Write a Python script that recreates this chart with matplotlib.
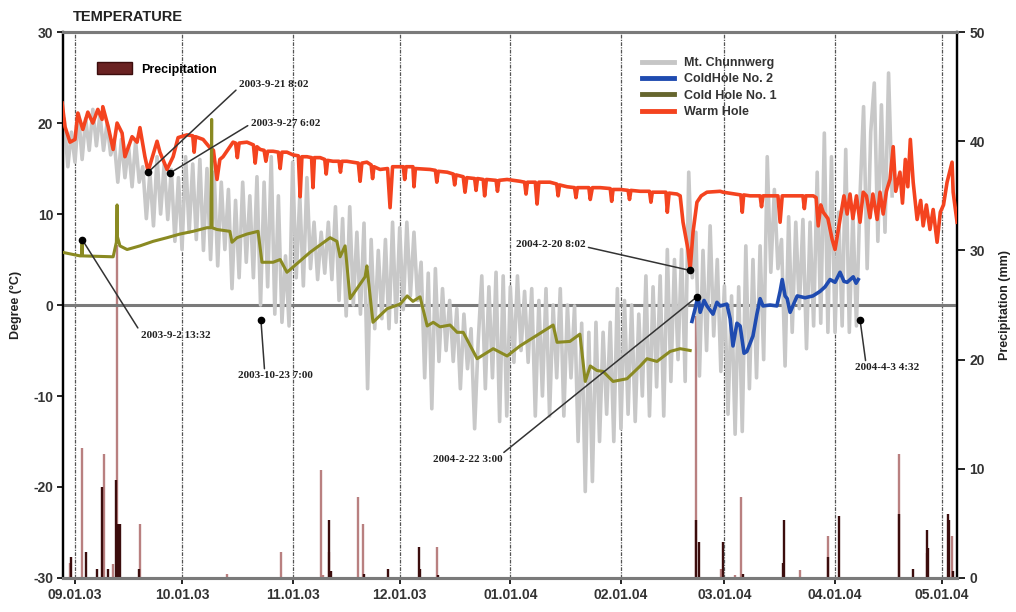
import datetime as dt

import matplotlib
matplotlib.use('Agg')
import matplotlib.dates as mdates
import matplotlib.pyplot as plt
from matplotlib.lines import Line2D
from matplotlib.patches import Patch

# days counted from 2003-09-01
BASE = dt.datetime(2003, 9, 1)

# Mt. Chunnwerg, one reading per day starting at day -3
gray_start = -3
gray_vals = [
    20.4, 15.2, 19.0, 15.7, 21.0, 16.0, 20.5, 17.0, 21.5, 17.5,
    21.0, 17.0, 20.0, 16.5, 18.0, 13.5, 18.2, 14.0, 17.5, 13.0,
    18.0, 13.5, 15.2, 9.5, 14.5, 8.7, 16.3, 10.0, 15.5, 9.4,
    14.9, 7.0, 14.0, 6.1, 16.3, 8.0, 15.5, 7.2, 16.0, 6.0,
    15.0, 5.0, 14.6, 4.3, 13.5, 6.1, 12.7, 1.8, 11.5, 3.0,
    13.5, 4.7, 12.0, 3.0, 14.1, 0.0, 13.5, 2.0, 16.3, -1.0,
    12.0, -1.9, 5.4, -2.3, 15.7, 3.0, 12.0, 2.1, 14.0, 4.0,
    9.1, 2.8, 8.0, 3.5, 9.1, 2.8, 10.8, 0.5, 9.5, -1.2,
    10.8, 0.0, 8.0, -1.0, 9.0, -9.2, 7.2, -2.6, 6.0, -1.5,
    7.2, -2.6, 9.1, -1.9, 8.5, -0.5, 9.1, 1.0, 8.0, 0.5,
    4.7, -8.0, 3.5, -11.4, 4.0, -6.2, 1.8, -5.0, 0.5, -6.2,
    -0.4, -9.2, -1.0, -7.0, -2.6, -13.6, -4.0, 3.2, -9.2, 2.0,
    -8.0, 3.6, -12.8, 3.2, -12.2, 2.0, -6.3, 3.2, -5.0, 1.5,
    -6.3, 1.8, -12.2, 0.5, -10.0, 1.8, -12.2, 0.0, -8.0, 1.8,
    -12.2, 0.0, -8.0, -0.1, -15.0, -2.0, -20.5, -3.0, -19.4, -1.9,
    -15.0, -3.0, -12.0, -1.9, -15.0, 1.8, -13.6, 0.5, -12.0, 0.0,
    -12.8, -1.0, -10.0, 3.2, -12.2, 2.0, -9.0, 3.2, -12.2, 6.1,
    -8.4, 5.0, -6.0, 6.1, -8.4, 14.6, 3.0, 8.0, -7.8, 6.0,
    -5.0, 8.7, -3.4, 5.0, -7.3, 2.1, -12.0, 1.0, -14.2, 2.0,
    -13.9, 6.5, -9.2, 5.0, -8.0, 6.5, -6.0, 16.3, 3.6, 12.7,
    4.0, 7.2, -6.7, 9.7, -3.0, 9.1, -0.4, 9.4, -4.8, 9.1,
    -2.3, 14.6, -2.0, 18.9, -3.0, 16.3, -3.0, 10.2, -2.3, 17.1,
    -3.0, 10.2, -2.3, 12.0, 21.8, 4.0, 19.0, 24.4, 7.0, 22.0,
    8.0, 25.5, 12.0,
]

# Warm Hole
warm_days = [
    -3.6, -2.8, -1.4, 0.0, 0.8, 2.2, 3.6, 5.0, 6.4, 7.6,
    7.8, 9.3, 10.7, 11.8, 13.2, 14.0, 16.0, 17.4, 18.2, 19.6,
    20.5, 23.0, 23.8, 25.8, 27.5, 28.9, 31.4, 33.0, 33.4, 33.8,
    35.9, 37.8, 38.8, 39.8, 40.6, 41.5, 44.3, 45.0, 45.5, 46.0,
    48.2, 50.0, 50.5, 51.0, 51.9, 53.0, 53.5, 54.0, 55.5, 57.0,
    57.5, 58.0, 59.4, 61.1, 62.6, 63.1, 63.6, 65.0, 66.3, 66.7,
    67.1, 68.7, 70.0, 70.4, 70.8, 72.3, 74.0, 74.4, 74.8, 76.2,
    79.4, 79.9, 80.4, 81.8, 83.0, 83.4, 83.8, 85.5, 87.6, 88.3,
    89.0, 90.3, 92.0, 92.4, 92.8, 94.7, 95.0, 95.4, 99.5, 101.0,
    101.4, 101.8, 104.3, 106.0, 106.4, 106.8, 108.8, 109.3, 109.8, 112.0,
    112.4, 112.8, 114.4, 114.8, 115.3, 118.0, 118.4, 118.8, 121.1, 124.7,
    126.0, 126.4, 126.8, 129.0, 129.5, 130.0, 133.1, 135.0, 135.4, 135.8,
    137.9, 140.0, 140.4, 140.8, 144.0, 144.4, 145.0, 147.2, 150.0, 150.4,
    150.8, 152.8, 155.0, 155.4, 155.8, 158.4, 161.0, 161.4, 161.8, 164.0,
    165.6, 166.0, 166.5, 168.7, 169.6, 170.4, 171.8, 172.4, 173.2, 174.3,
    175.5, 177.1, 180.8, 181.6, 185.0, 186.6, 187.0, 187.4, 189.2, 192.0,
    192.4, 192.8, 194.0, 197.0, 197.6, 198.2, 199.6, 203.2, 204.0, 204.4,
    204.8, 206.9, 207.7, 208.3, 209.0, 209.7, 211.0, 212.2, 213.0, 214.4,
    215.5, 216.4, 217.2, 218.0, 219.0, 220.0, 220.9, 221.8, 222.8, 223.6,
    224.8, 225.6, 226.5, 227.4, 228.4, 229.3, 230.0, 231.2, 231.9, 232.7,
    233.4, 234.1, 234.9, 236.0, 237.0, 237.7, 238.6, 239.6, 240.5, 241.6,
    242.5, 243.4, 244.4, 245.8, 246.1, 247.2,
]
warm_vals = [
    22.2, 19.6, 17.9, 18.2, 21.1, 19.3, 21.2, 20.0, 21.5, 20.4,
    21.8, 19.6, 17.1, 20.0, 18.9, 16.3, 18.5, 17.9, 19.5, 16.3,
    14.7, 18.0, 16.8, 14.9, 16.3, 18.4, 18.7, 18.6, 16.8, 18.5,
    18.2, 17.3, 17.0, 13.8, 16.0, 16.3, 17.9, 17.8, 16.2, 17.8,
    17.9, 17.6, 15.6, 17.4, 17.1, 17.0, 15.8, 16.9, 16.9, 16.8,
    15.0, 16.8, 16.8, 16.5, 16.4, 11.9, 16.3, 16.3, 16.2, 12.9,
    16.2, 16.2, 16.0, 14.4, 15.9, 15.8, 15.8, 14.6, 15.8, 15.8,
    15.6, 13.6, 15.6, 15.7, 15.4, 13.9, 15.2, 14.9, 15.0, 10.7,
    15.2, 15.2, 15.2, 13.8, 15.2, 15.2, 13.0, 15.0, 14.9, 14.8,
    13.5, 14.7, 14.6, 14.4, 13.2, 14.3, 14.1, 12.4, 14.0, 13.9,
    12.6, 13.9, 13.8, 12.0, 13.8, 13.7, 12.5, 13.7, 13.8, 13.6,
    13.5, 12.2, 13.5, 13.5, 11.1, 13.5, 13.5, 13.3, 12.0, 13.2,
    13.0, 12.9, 11.8, 12.9, 12.9, 11.6, 12.9, 12.9, 12.8, 11.4,
    12.7, 12.7, 12.6, 11.6, 12.6, 12.5, 12.5, 11.3, 12.4, 12.4,
    12.4, 10.2, 12.3, 12.2, 12.0, 9.1, 6.1, 3.9, 8.0, 11.3,
    12.0, 12.4, 12.5, 12.4, 12.2, 12.1, 10.2, 12.1, 12.0, 12.0,
    10.8, 12.0, 12.0, 12.0, 9.1, 12.0, 12.0, 12.0, 12.0, 10.6,
    12.0, 12.0, 11.8, 8.7, 11.0, 10.2, 9.5, 7.2, 6.1, 9.4,
    12.0, 10.0, 12.2, 9.5, 12.0, 9.1, 12.4, 12.0, 9.6, 12.2,
    9.4, 12.4, 10.0, 12.5, 13.8, 17.4, 12.5, 14.6, 11.2, 16.0,
    13.0, 18.2, 13.5, 9.4, 11.5, 8.7, 11.0, 8.3, 10.5, 6.9,
    10.2, 11.0, 13.5, 15.7, 12.4, 9.1,
]

# Cold Hole No. 1
cold1_days = [
    -3.6, 1.4, 1.8, 2.0, 2.1, 10.7, 11.6, 11.8, 11.9, 12.6,
    14.6, 18.2, 21.9, 25.8, 29.4, 33.1, 37.0, 38.1, 38.3, 38.4,
    39.8, 43.4, 44.0, 45.4, 48.2, 51.3, 52.4, 55.5, 57.5, 59.4,
    60.3, 65.9, 71.5, 73.4, 74.3, 75.7, 77.1, 81.3, 81.8, 83.5,
    87.5, 91.1, 93.1, 94.7, 96.7, 98.7, 100.4, 102.3, 105.1, 107.1,
    108.8, 112.7, 117.2, 121.1, 124.7, 134.0, 135.1, 138.7, 141.5, 143.0,
    144.4, 146.3, 148.0, 150.8, 154.7, 158.4, 160.3, 163.1, 166.8, 169.6,
    172.4,
]
cold1_vals = [
    5.8, 5.4, 5.4, 7.0, 5.4, 5.3, 6.9, 11.0, 7.5, 6.5,
    6.1, 6.5, 7.0, 7.4, 7.8, 8.1, 8.5, 8.5, 20.4, 8.5,
    8.3, 8.1, 6.9, 7.4, 7.8, 8.1, 4.7, 4.7, 5.0, 3.6,
    3.9, 5.8, 7.4, 7.0, 5.3, 6.5, 0.7, 3.1, 4.3, -1.9,
    -0.4, 0.1, 1.0, 0.4, 0.9, -2.3, -1.9, -2.4, -2.2, -3.0,
    -3.0, -5.9, -4.8, -5.6, -4.5, -2.2, -4.1, -4.0, -3.2, -8.4,
    -6.7, -7.2, -7.3, -8.4, -8.1, -6.7, -5.9, -6.2, -5.1, -4.8,
    -5.0,
]

# ColdHole No. 2
cold2_days = [
    172.9, 173.8, 174.6, 175.2, 176.3, 177.1, 178.8, 179.9, 180.8, 182.7,
    183.6, 184.4, 185.5, 186.4, 187.5, 188.3, 190.0, 191.1, 192.0, 192.8,
    194.8, 196.7, 197.6, 198.2, 199.0, 199.6, 200.4, 202.4, 204.6, 206.8,
    208.8, 210.2, 211.6, 213.0, 214.4, 215.5, 216.4, 218.1, 218.9, 219.5,
]
cold2_vals = [
    -1.8, -0.4, 1.0, -0.8, 0.5, -0.1, -1.0, 0.3, -0.1, 0.1,
    -1.5, -4.5, -2.0, -2.3, -5.3, -5.1, -3.4, -1.0, 0.7, -0.1,
    0.0, -0.1, 1.5, 2.8, 1.0, 0.7, -0.8, 1.0, 0.8, 1.0,
    1.5, 2.0, 2.8, 2.5, 3.6, 2.6, 2.5, 3.1, 2.4, 2.8,
]

# precipitation (mm), two shades of bars
rain_light_days = [-1.4, 2.0, 8.1, 10.6, 11.8, 18.2, 42.6, 57.7, 68.9, 69.5,
                   71.2, 79.3, 80.7, 101.5, 174.0, 181.1, 185.0, 186.7,
                   203.2, 211.0, 230.9, 238.8, 245.8]
rain_light_mm = [1.4, 11.9, 11.4, 1.3, 30.5, 4.9, 0.4, 2.4, 9.9, 0.3,
                 2.4, 7.4, 4.9, 2.8, 24.0, 0.8, 0.3, 7.4,
                 0.7, 3.8, 11.4, 2.3, 3.8]
rain_dark_days = [-1.1, 3.1, 6.2, 7.6, 9.2, 11.5, 12.1, 12.6, 17.9, 71.2,
                  71.7, 80.9, 87.7, 96.4, 96.6, 101.6, 174.0, 174.9, 181.6,
                  187.2, 198.4, 198.7, 211.0, 214.1, 230.9, 234.9, 238.8,
                  239.1, 244.7, 245.0, 246.1]
rain_dark_mm = [1.9, 2.4, 0.8, 8.3, 0.8, 9.0, 4.9, 4.9, 0.8, 5.3,
                0.6, 0.4, 0.8, 2.8, 0.8, 0.3, 5.3, 3.3, 3.3,
                0.4, 1.4, 5.3, 1.9, 5.7, 5.9, 0.8, 4.4,
                2.7, 5.9, 5.3, 0.6]

# annotations: label, point (day, degC), text (day, degC), alignment, line start
notes = [
    ('2003-9-21 8:02', (20.5, 14.6), (45.9, 24.2), 'left', (0.0, 0.2)),
    ('2003-9-27 6:02', (26.6, 14.5), (49.2, 20.0), 'left', (0.0, 0.4)),
    ('2003-9-2 13:32', (2.0, 7.2), (18.4, -3.3), 'left', (0.0, 0.8)),
    ('2003-10-23 7:00', (52.1, -1.6), (56.3, -7.8), 'center', (0.35, 1.0)),
    ('2004-2-20 8:02', (172.4, 3.8), (123.6, 6.6), 'left', (1.0, 0.3)),
    ('2004-2-22 3:00', (174.3, 0.9), (100.3, -17.0), 'left', (0.97, 1.0)),
    ('2004-4-3 4:32', (220.0, -1.6), (227.6, -6.9), 'center', (0.17, 1.0)),
]


def to_x(days):
    base = mdates.date2num(BASE)
    return [base + d for d in days]


plt.rcParams['font.family'] = ['Liberation Sans', 'DejaVu Sans']
plt.rcParams['axes.unicode_minus'] = False

fig = plt.figure(figsize=(10.16, 6.12), dpi=100)
ax = fig.add_axes([0.062, 0.0556, 0.880, 0.892])
ax2 = ax.twinx()
ax.set_zorder(ax2.get_zorder() + 1)
ax.patch.set_visible(False)

# precipitation bars
ax2.vlines(to_x(rain_light_days), 0, rain_light_mm, color='#b98080', lw=1.7)
ax2.vlines(to_x(rain_dark_days), 0, rain_dark_mm, color='#3c0d0d', lw=1.7)
ax2.set_ylim(0, 50)
ax2.set_yticks(range(0, 51, 10))

# month grid and zero line
months = [dt.datetime(2003, m, 1) for m in range(9, 13)] + \
         [dt.datetime(2004, m, 1) for m in range(1, 6)]
for m in months:
    ax.axvline(mdates.date2num(m), color='#555555', lw=0.9,
               ls=(0, (3, 1, 1, 1)), zorder=1)
ax.axhline(0, color='#7a7a7a', lw=2.2, zorder=1)

gray_days = [gray_start + i for i in range(len(gray_vals))]
ax.plot(to_x(gray_days), gray_vals, color='#c8c8c8', lw=2.6, zorder=2)
ax.plot(to_x(warm_days), warm_vals, color='#f4431f', lw=2.6, zorder=3)
ax.plot(to_x(cold1_days), cold1_vals, color='#8a8a22', lw=2.2, zorder=3)
ax.plot(to_x(cold2_days), cold2_vals, color='#1f4bb0', lw=2.6, zorder=4)

for label, (pd, pv), (td, tv), ha, rel in notes:
    ax.annotate(label, xy=(to_x([pd])[0], pv),
                xytext=(to_x([td])[0], tv), ha=ha, va='center',
                fontsize=8, fontweight='bold', family='Liberation Serif',
                color='#222222', zorder=6,
                arrowprops=dict(arrowstyle='-', color='#333333', lw=1.1,
                                relpos=rel, shrinkA=0, shrinkB=0))
    ax.plot(to_x([pd]), [pv], 'o', color='black', ms=4.5, zorder=7)

ax.set_xlim(to_x([-3.36])[0], to_x([247.2])[0])
ax.set_ylim(-30, 30)
ax.set_yticks(range(-30, 31, 10))
ax.xaxis.set_major_locator(mdates.MonthLocator())
ax.xaxis.set_major_formatter(mdates.DateFormatter('%m.%d.%y'))

for t in ax.get_xticklabels() + ax.get_yticklabels() + ax2.get_yticklabels():
    t.set_fontsize(10)
    t.set_fontweight('bold')
    t.set_color('#333333')
ax.tick_params(axis='x', direction='out', length=4, width=1.2, pad=3)
ax.tick_params(axis='y', direction='out', length=4, width=1.2, pad=3)
ax2.tick_params(axis='y', direction='out', length=6, width=1.2, pad=3)

for a in (ax, ax2):
    a.spines['top'].set_color('#7a7a7a')
    a.spines['top'].set_linewidth(2.2)
    a.spines['bottom'].set_color('#7a7a7a')
    a.spines['bottom'].set_linewidth(2.2)
    a.spines['left'].set_linewidth(1.6)
    a.spines['right'].set_linewidth(1.6)

ax.set_ylabel('Degree (°C)', fontsize=9, fontweight='bold', color='#222222',
              labelpad=8)
ax2.set_ylabel('Precipitation (mm)', fontsize=9, fontweight='bold',
               color='#222222', labelpad=10)
fig.text(0.072, 0.972, 'TEMPERATURE', fontsize=10.5, fontweight='bold',
         color='#222222', va='center')

line_handles = [
    Line2D([], [], color='#c6c6c6', lw=3.5),
    Line2D([], [], color='#1f4bb0', lw=3.5),
    Line2D([], [], color='#66662e', lw=3.5),
    Line2D([], [], color='#f4431f', lw=3.5),
]
leg = ax.legend(line_handles, ['Mt. Chunnwerg', 'ColdHole No. 2',
                               'Cold Hole No. 1', 'Warm Hole'],
                loc='upper left', bbox_to_anchor=(0.635, 0.975),
                frameon=False, handlelength=2.6, labelspacing=0.35,
                prop=dict(size=9, weight='bold'))
for t in leg.get_texts():
    t.set_color('#333333')
ax.add_artist(leg)
ax.legend([Patch(facecolor='#6a2222', edgecolor='#3c0d0d')], ['Precipitation'],
          loc='upper left', bbox_to_anchor=(0.025, 0.965), frameon=False,
          handlelength=2.8, handleheight=1.1,
          prop=dict(size=9, weight='bold'))

fig.savefig('out.png', dpi=100)
